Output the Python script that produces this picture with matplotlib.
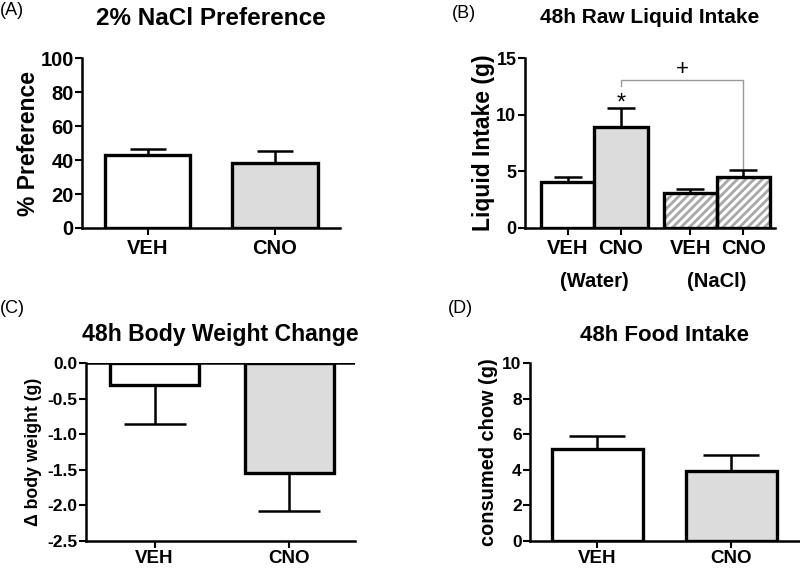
import numpy as np
import matplotlib
matplotlib.use('Agg')
import matplotlib.pyplot as plt

plt.rcParams['font.family'] = ['Liberation Sans', 'DejaVu Sans']
plt.rcParams['font.weight'] = 'bold'
plt.rcParams['axes.titleweight'] = 'bold'
plt.rcParams['axes.labelweight'] = 'bold'
plt.rcParams['hatch.linewidth'] = 2.0

# data
groups = ['VEH', 'CNO']
pref_mean = [43.0, 38.2]
pref_err = [3.7, 7.0]

intake_labels = ['VEH', 'CNO', 'VEH', 'CNO']
intake_mean = [4.1, 8.9, 3.1, 4.5]
intake_err = [0.4, 1.7, 0.35, 0.6]

bw_mean = [-0.31, -1.55]
bw_err = [0.54, 0.53]

food_mean = [5.15, 3.95]
food_err = [0.75, 0.9]

gray = '#dcdcdc'
lw = 2.4

fig = plt.figure(figsize=(8, 5.69), dpi=100)


def style(ax, ylab=14, xlab=14.5, xpad=3):
    for s in ['top', 'right']:
        ax.spines[s].set_visible(False)
    for s in ['left', 'bottom']:
        ax.spines[s].set_linewidth(1.8)
    ax.tick_params(width=1.5, length=5)
    ax.tick_params(axis='y', labelsize=ylab, pad=1)
    ax.tick_params(axis='x', labelsize=xlab, pad=xpad)


# (A)
ax = fig.add_axes([0.1025, 0.5993, 0.3225, 0.2987])
x = np.arange(2)
ax.bar(x, pref_mean, width=0.667, color=['white', gray], edgecolor='black', linewidth=lw, zorder=2)
ax.errorbar(x, pref_mean, yerr=[[0, 0], pref_err], fmt='none', ecolor='black',
            elinewidth=1.8, capsize=13, capthick=1.8, zorder=1)
ax.set_ylim(0, 100)
ax.set_yticks([0, 20, 40, 60, 80, 100])
ax.set_xlim(-0.514, 1.51)
ax.set_xticks(x)
ax.set_xticklabels(groups)
ax.set_ylabel('% Preference', fontsize=16.5, labelpad=0)
ax.set_title('2% NaCl Preference', fontsize=17.5, pad=24)
style(ax, ylab=14.5)

# (B)
ax = fig.add_axes([0.656, 0.5993, 0.313, 0.2987])
xb = np.array([0, 1, 2.3, 3.3])
ax.bar(xb[:2], intake_mean[:2], width=1.0, color=['white', gray], edgecolor='black', linewidth=lw, zorder=2)
ax.bar(xb[2:], intake_mean[2:], width=1.0, color='white', edgecolor='#a8a8a8', hatch='////', linewidth=0, zorder=2)
ax.bar(xb[2:], intake_mean[2:], width=1.0, color='none', edgecolor='black', linewidth=lw, zorder=3)
ax.errorbar(xb, intake_mean, yerr=[[0] * 4, intake_err], fmt='none', ecolor='black',
            elinewidth=1.8, capsize=10, capthick=1.8, zorder=1)
ax.plot([xb[1], xb[1], xb[3], xb[3]], [12.5, 13.05, 13.05, intake_mean[3] + intake_err[3]],
        color='#999999', lw=1.0, zorder=0)
ax.text((xb[1] + xb[3]) / 2, 13.05, '+', ha='center', va='bottom', fontsize=16, fontweight='normal')
ax.text(xb[1], intake_mean[1] + intake_err[1] - 0.55, '*', ha='center', va='bottom', fontsize=17, fontweight='normal')
ax.set_ylim(0, 15)
ax.set_yticks([0, 5, 10, 15])
ax.set_xlim(-0.81, 3.9)
ax.set_xticks(xb)
ax.set_xticklabels(intake_labels)
ax.text(0.5, -0.26, '(Water)', transform=ax.get_xaxis_transform(), ha='center', va='top', fontsize=14.5)
ax.text(2.8, -0.26, '(NaCl)', transform=ax.get_xaxis_transform(), ha='center', va='top', fontsize=14.5)
ax.set_ylabel('Liquid Intake (g)', fontsize=16.5, labelpad=1)
ax.set_title('48h Raw Liquid Intake', fontsize=15, pad=25)
style(ax, ylab=13)

# (C)
ax = fig.add_axes([0.1075, 0.0492, 0.3363, 0.3128])
ax.bar(x, bw_mean, width=0.66, color=['white', gray], edgecolor='black', linewidth=lw, zorder=2)
ax.errorbar(x, bw_mean, yerr=[bw_err, [0, 0]], fmt='none', ecolor='black',
            elinewidth=1.8, capsize=22, capthick=1.8, zorder=1)
ax.axhline(0, color='black', lw=1.8, zorder=3)
ax.set_ylim(-2.5, 0)
ax.set_yticks([-2.5, -2.0, -1.5, -1.0, -0.5, 0.0])
ax.set_yticklabels(['-2.5', '-2.0', '-1.5', '-1.0', '-0.5', '0.0'])
ax.set_xlim(-0.509, 1.49)
ax.set_xticks(x)
ax.set_xticklabels(groups)
ax.set_ylabel('\u0394 body weight (g)', fontsize=12.7, labelpad=4)
ax.set_title('48h Body Weight Change', fontsize=16.6, pad=16)
style(ax, ylab=12.5, xlab=13.5, xpad=1.5)

# (D)
ax = fig.add_axes([0.6625, 0.0492, 0.3365, 0.3128])
ax.bar(x, food_mean, width=0.68, color=['white', gray], edgecolor='black', linewidth=lw, zorder=2)
ax.errorbar(x, food_mean, yerr=[[0, 0], food_err], fmt='none', ecolor='black',
            elinewidth=1.8, capsize=20, capthick=1.8, zorder=1)
ax.set_ylim(0, 10)
ax.set_yticks([0, 2, 4, 6, 8, 10])
ax.set_xlim(-0.502, 1.505)
ax.set_xticks(x)
ax.set_xticklabels(groups)
ax.set_ylabel('consumed chow (g)', fontsize=14.4, labelpad=3, fontweight='semibold')
ax.set_title('48h Food Intake', fontsize=16, pad=16)
style(ax, ylab=12.5, xlab=13.5, xpad=1.5)

# panel letters
for lx, ly, t in [(0.0, 0.997, '(A)'), (0.565, 0.992, '(B)'), (0.0, 0.472, '(C)'), (0.56, 0.472, '(D)')]:
    fig.text(lx, ly, t, fontsize=13, fontweight='normal', va='top')

fig.savefig('out.png', dpi=100)
